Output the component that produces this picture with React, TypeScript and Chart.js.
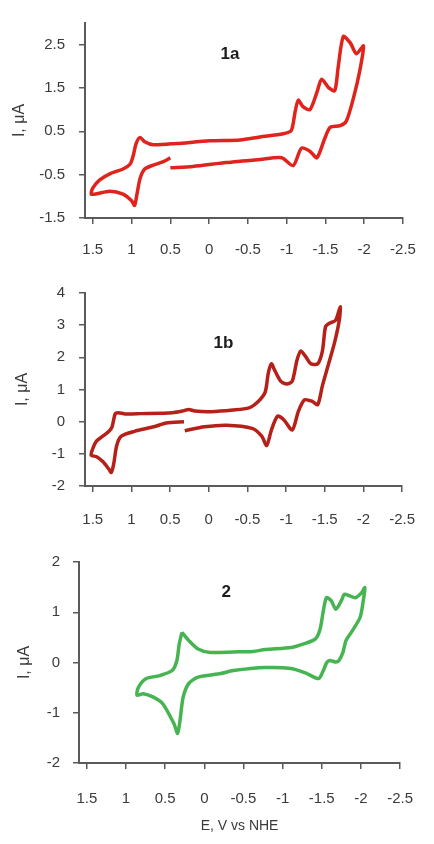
import React, { useEffect, useRef } from "react";
import { Chart, registerables } from "chart.js";

Chart.register(...registerables);

// ---------- data ----------
const X_TICKS = [1.5, 1, 0.5, 0, -0.5, -1, -1.5, -2, -2.5];
const Y_TICKS_1A = [-1.5, -0.5, 0.5, 1.5, 2.5];
const Y_TICKS_1B = [-2, -1, 0, 1, 2, 3, 4];
const Y_TICKS_2 = [-2, -1, 0, 1, 2];

const E_1A = [0.5, 0.21, -0.22, -0.655, -0.935, -1.085, -1.19, -1.3, -1.39, -1.49, -1.56, -1.69, -1.77, -1.86, -1.945, -1.99, -1.9, -1.82, -1.73, -1.665, -1.62, -1.54, -1.45, -1.39, -1.3, -1.21, -1.15, -1.11, -1.06, -0.955, -0.655, -0.4, -0.01, 0.42, 0.72, 0.83, 0.89, 0.94, 0.98, 1.02, 1.11, 1.28, 1.41, 1.5, 1.52, 1.45, 1.28, 1.11, 1.0, 0.96, 0.93, 0.89, 0.83, 0.72, 0.59, 0.5];
const I_1A = [-0.34, -0.31, -0.22, -0.15, -0.11, -0.29, 0.11, 0.04, -0.11, 0.33, 0.59, 0.63, 0.74, 1.26, 1.92, 2.47, 2.29, 2.54, 2.69, 1.99, 1.44, 1.51, 1.7, 1.4, 1.0, 1.07, 1.22, 0.96, 0.52, 0.445, 0.37, 0.3, 0.28, 0.22, 0.19, 0.26, 0.36, 0.22, -0.07, -0.26, -0.37, -0.48, -0.62, -0.81, -0.95, -0.94, -0.88, -0.95, -1.1, -1.21, -0.95, -0.59, -0.37, -0.28, -0.2, -0.11];

const E_1B = [0.31, 0.056, -0.23, -0.56, -0.685, -0.75, -0.81, -0.89, -0.97, -1.08, -1.16, -1.24, -1.34, -1.41, -1.47, -1.55, -1.63, -1.69, -1.7, -1.64, -1.56, -1.51, -1.47, -1.41, -1.32, -1.26, -1.19, -1.14, -1.08, -1.01, -0.93, -0.85, -0.81, -0.77, -0.73, -0.64, -0.52, -0.31, -0.03, 0.18, 0.26, 0.34, 0.47, 0.88, 1.08, 1.17, 1.21, 1.25, 1.29, 1.37, 1.45, 1.5, 1.52, 1.45, 1.37, 1.29, 1.26, 1.23, 1.19, 1.13, 0.96, 0.71, 0.55, 0.32];
const I_1B = [-0.28, -0.16, -0.11, -0.21, -0.45, -0.74, -0.26, 0.17, 0.06, -0.26, 0.33, 0.68, 0.63, 0.53, 1.12, 1.8, 2.49, 3.18, 3.57, 3.15, 3.06, 2.95, 2.2, 1.8, 1.8, 2.0, 2.2, 1.9, 1.26, 1.17, 1.26, 1.61, 1.8, 1.51, 0.92, 0.63, 0.43, 0.36, 0.31, 0.33, 0.38, 0.33, 0.28, 0.25, 0.24, 0.28, 0.24, -0.16, -0.3, -0.45, -0.6, -0.84, -1.04, -1.09, -1.24, -1.48, -1.58, -1.33, -0.74, -0.45, -0.3, -0.16, -0.04, 0.0];

const E_2 = [0.285, 0.2, 0.08, -0.08, -0.37, -0.62, -0.78, -1.11, -1.27, -1.42, -1.48, -1.52, -1.56, -1.62, -1.68, -1.75, -1.79, -1.85, -1.93, -2.01, -2.05, -2.03, -1.99, -1.89, -1.81, -1.77, -1.72, -1.68, -1.6, -1.56, -1.52, -1.46, -1.31, -1.11, -0.78, -0.37, -0.21, 0.08, 0.2, 0.27, 0.31, 0.34, 0.39, 0.53, 0.65, 0.78, 0.86, 0.84, 0.74, 0.57, 0.41, 0.35, 0.32, 0.285];
const I_2 = [0.6, 0.44, 0.27, 0.2, 0.21, 0.22, 0.26, 0.3, 0.37, 0.47, 0.67, 1.03, 1.29, 1.23, 1.06, 1.23, 1.36, 1.33, 1.29, 1.39, 1.49, 1.23, 0.9, 0.63, 0.44, 0.2, 0.04, 0.01, 0.04, -0.01, -0.16, -0.32, -0.22, -0.12, -0.1, -0.16, -0.22, -0.29, -0.42, -0.69, -1.15, -1.41, -1.21, -0.82, -0.69, -0.62, -0.65, -0.49, -0.32, -0.26, -0.16, 0.04, 0.37, 0.6];

const PANEL_NAMES = ["1a", "1b", "2"];
const Y_TITLE = "I, μA";
const X_TITLE = "E, V vs NHE";

// ---------- styling ----------
const AXIS = "#5a5a5a";
const TEXT = "#3a3a3a";
const FONT = '"Liberation Sans", Arial, sans-serif';

const labelPlugin = {
  id: "panelLabel",
  afterDatasetsDraw(chart: any, _args: any, opts: any) {
    const { ctx, scales } = chart;
    ctx.save();
    ctx.font = `bold 17px ${FONT}`;
    ctx.fillStyle = "#1c1c1c";
    ctx.textAlign = "center";
    ctx.textBaseline = "middle";
    ctx.fillText(opts.text, scales.x.getPixelForValue(opts.x), scales.y.getPixelForValue(opts.y));
    ctx.restore();
  },
};

type PanelSpec = {
  top: number;
  height: number;
  padR: number;
  padT: number;
  yWidth: number;
  xHeight: number;
  yTitlePad: number;
  yTickPad: number;
  xTickPad: number;
  yMin: number;
  yMax: number;
  yTicks: number[];
  e: number[];
  i: number[];
  color: string;
  name: string;
  labelX: number;
  labelY: number;
  xTitle: boolean;
};

const PANELS: PanelSpec[] = [
  { top: 0, height: 270, padR: 31, padT: 15, yWidth: 85, xHeight: 52, yTitlePad: 10, yTickPad: 14, xTickPad: 17, yMin: -1.5, yMax: 3, yTicks: Y_TICKS_1A, e: E_1A, i: I_1A, color: "#e0231c", name: PANEL_NAMES[0], labelX: -0.27, labelY: 2.28, xTitle: false },
  { top: 270, height: 270, padR: 17, padT: 12, yWidth: 85, xHeight: 54, yTitlePad: 13, yTickPad: 14, xTickPad: 19, yMin: -2, yMax: 4, yTicks: Y_TICKS_1B, e: E_1B, i: I_1B, color: "#b52019", name: PANEL_NAMES[1], labelX: -0.19, labelY: 2.44, xTitle: false },
  { top: 540, height: 304, padR: 21, padT: 21, yWidth: 79, xHeight: 81, yTitlePad: 15, yTickPad: 13, xTickPad: 21, yMin: -2, yMax: 2, yTicks: Y_TICKS_2, e: E_2, i: I_2, color: "#45b451", name: PANEL_NAMES[2], labelX: -0.28, labelY: 1.39, xTitle: true },
];

function Panel({ p }: { p: PanelSpec }) {
  const ref = useRef<HTMLCanvasElement | null>(null);
  useEffect(() => {
    if (!ref.current) return;
    const data = p.e.map((x, k) => ({ x, y: p.i[k] }));
    const tickFont = { family: FONT, size: 15 };
    const chart = new Chart(ref.current, {
      type: "scatter",
      data: {
        datasets: [
          {
            data,
            showLine: true,
            borderColor: p.color,
            backgroundColor: p.color,
            borderWidth: 3.5,
            pointRadius: 0,
            tension: 0.25,
            fill: false,
          },
        ],
      },
      options: {
        animation: false,
        responsive: false,
        devicePixelRatio: 1,
        layout: { padding: { left: 0, right: p.padR, top: p.padT, bottom: 0 } },
        plugins: {
          legend: { display: false },
          tooltip: { enabled: false },
          panelLabel: { text: p.name, x: p.labelX, y: p.labelY },
        } as any,
        scales: {
          x: {
            type: "linear",
            reverse: true,
            min: -2.5,
            max: 1.6,
            afterBuildTicks: (s: any) => {
              s.ticks = X_TICKS.map((v) => ({ value: v }));
            },
            afterFit: (s: any) => {
              s.height = p.xHeight;
            },
            border: { display: true, color: AXIS, width: 2 },
            grid: { drawOnChartArea: false, drawTicks: true, tickLength: 6, color: AXIS, lineWidth: 1.5 },
            ticks: {
              padding: p.xTickPad,
              color: TEXT,
              font: tickFont,
              autoSkip: false,
              maxRotation: 0,
              callback: (v: any) => String(v),
            },
            title: {
              display: p.xTitle,
              text: X_TITLE,
              color: TEXT,
              font: { family: FONT, size: 14 },
              padding: { top: 0, bottom: 9 },
            },
          },
          y: {
            type: "linear",
            min: p.yMin,
            max: p.yMax,
            afterBuildTicks: (s: any) => {
              s.ticks = p.yTicks.map((v) => ({ value: v }));
            },
            afterFit: (s: any) => {
              s.width = p.yWidth;
            },
            border: { display: true, color: AXIS, width: 2 },
            grid: { drawOnChartArea: false, drawTicks: true, tickLength: 6, color: AXIS, lineWidth: 1.5 },
            ticks: {
              padding: p.yTickPad,
              color: TEXT,
              font: tickFont,
              autoSkip: false,
              callback: (v: any) => String(v),
            },
            title: {
              display: true,
              text: Y_TITLE,
              color: TEXT,
              font: { family: FONT, size: 16 },
              padding: { top: p.yTitlePad, bottom: 0 },
            },
          },
        },
      } as any,
      plugins: [labelPlugin as any],
    });
    return () => chart.destroy();
  }, [p]);
  return (
    <canvas
      ref={ref}
      width={434}
      height={p.height}
      style={{ position: "absolute", left: 0, top: p.top, width: 434, height: p.height, display: "block" }}
    />
  );
}

export default function App() {
  return (
    <div style={{ position: "absolute", left: 0, top: 0, width: 434, height: 844, background: "#ffffff", overflow: "hidden" }}>
      {PANELS.map((p, k) => (
        <Panel key={k} p={p} />
      ))}
    </div>
  );
}
